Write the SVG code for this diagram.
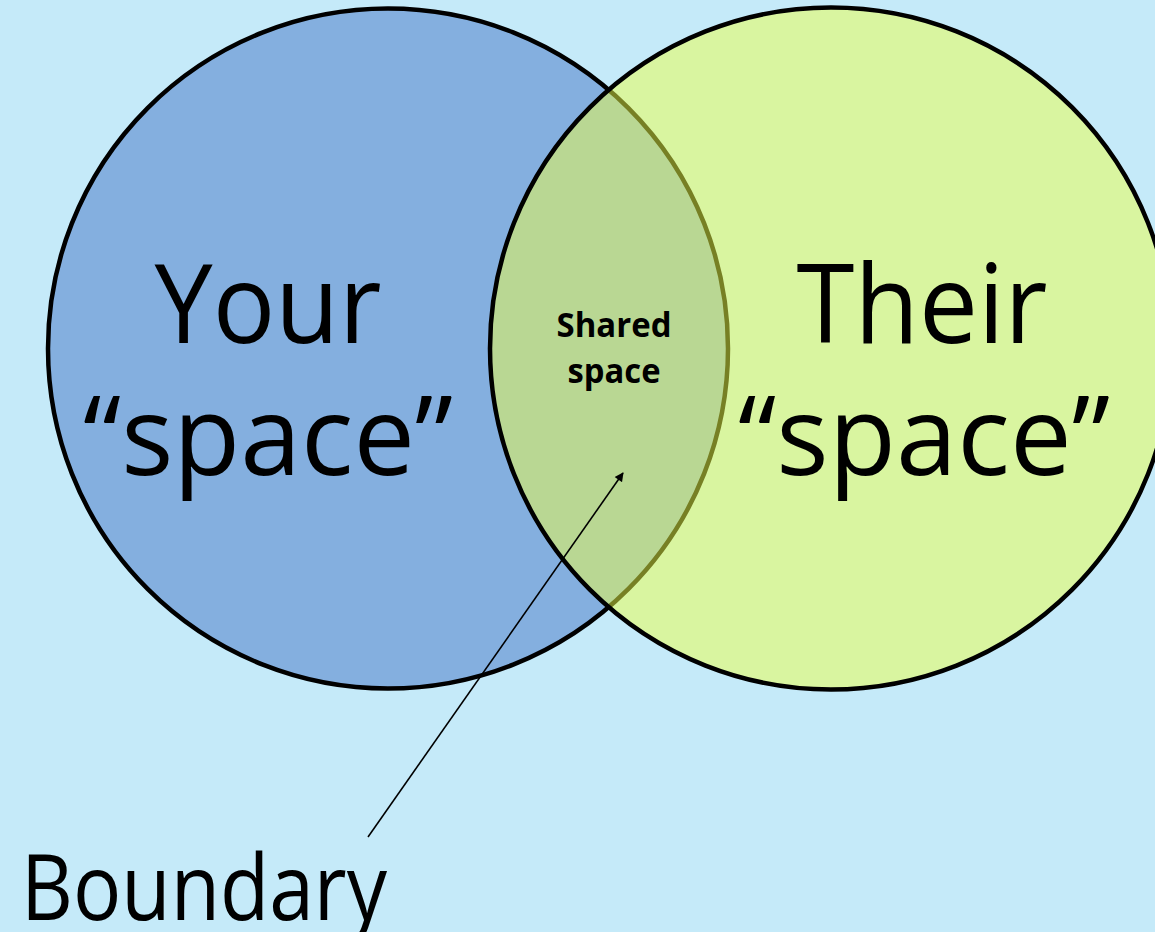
<svg xmlns="http://www.w3.org/2000/svg" width="1155" height="932" viewBox="0 0 1155 932">
  <style>
    .bg { fill: #C5EAF9; }
    .circle { stroke: #000; stroke-width: 4.5; }
    .big { font-family: "Open Sans", "Liberation Sans", sans-serif; font-size: 109px; fill: #000; text-anchor: middle; }
    .small { font-family: "Open Sans", "Liberation Sans", sans-serif; font-weight: bold; font-size: 34px; fill: #000; text-anchor: middle; }
    .conn { stroke: #000; stroke-width: 1.6; fill: none; }
  </style>
  <defs>
    <marker id="arrow" viewBox="0 0 10 10" refX="9" refY="5" markerWidth="10" markerHeight="9" markerUnits="userSpaceOnUse" orient="auto">
      <path d="M0,0 L10,5 L0,10 Z" fill="#000"/>
    </marker>
  </defs>
  <rect class="bg" x="0" y="0" width="1155" height="932"/>
  <g id="your-space">
    <circle class="circle" cx="388" cy="348.5" r="340" fill="#84AFDF"/>
    <text class="big" x="268" y="343" textLength="227" lengthAdjust="spacingAndGlyphs">Your</text>
    <text class="big" x="268" y="475" textLength="370" lengthAdjust="spacingAndGlyphs">“space”</text>
  </g>
  <g id="their-space">
    <circle class="circle" cx="831" cy="348.5" r="341" fill="#EDFF47" fill-opacity="0.5"/>
    <text class="big" x="922" y="343" textLength="251" lengthAdjust="spacingAndGlyphs">Their</text>
    <text class="big" x="924" y="475" textLength="372" lengthAdjust="spacingAndGlyphs">“space”</text>
  </g>
  <g id="shared-space">
    <text class="small" x="614" y="337" textLength="115" lengthAdjust="spacingAndGlyphs">Shared</text>
    <text class="small" x="614" y="383" textLength="93" lengthAdjust="spacingAndGlyphs">space</text>
  </g>
  <g id="boundary">
    <text class="big" style="font-size:91px;text-anchor:start" x="21" y="920" textLength="366" lengthAdjust="spacingAndGlyphs">Boundary</text>
  </g>
  <g id="connectors">
    <line class="conn" x1="368" y1="837" x2="623" y2="473" marker-end="url(#arrow)"/>
  </g>
</svg>
